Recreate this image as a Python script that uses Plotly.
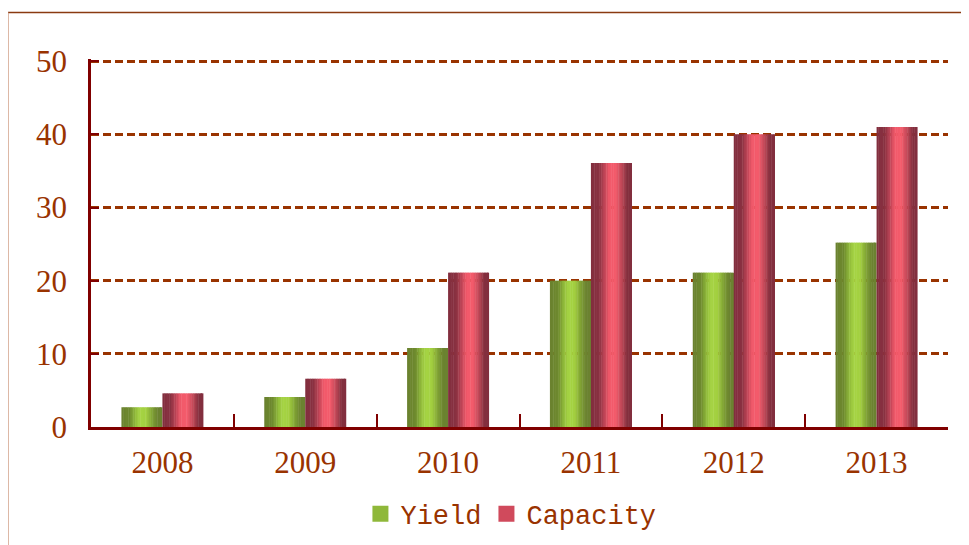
import plotly.graph_objects as go

years = ["2008", "2009", "2010", "2011", "2012", "2013"]
yield_vals = [2.7, 4.1, 10.8, 20.0, 21.1, 25.2]
capacity_vals = [4.6, 6.6, 21.1, 36.1, 40.0, 41.0]
y_ticks = [0, 10, 20, 30, 40, 50]

series = [
    ("Yield", yield_vals, [(0.0, "#6b8230"), (0.2, "#6e8a2e"), (0.35, "#94bf3c"), (0.45, "#a6d444"),
                           (0.6, "#a3d040"), (0.75, "#80a234"), (0.88, "#6b8230"), (1.0, "#6b8230")],
     "#8fb83a", -1),
    ("Capacity", capacity_vals, [(0.0, "#822e3e"), (0.2, "#8a3242"), (0.35, "#c8485a"), (0.45, "#f25a6b"),
                                 (0.6, "#f45c6c"), (0.75, "#c04858"), (0.88, "#84303f"), (1.0, "#822e3e")],
     "#d04a5c", 0),
]


def hex2rgb(h):
    h = h.lstrip("#")
    return tuple(int(h[i:i + 2], 16) for i in (0, 2, 4))


def interp(stops, t):
    for (t0, c0), (t1, c1) in zip(stops[:-1], stops[1:]):
        if t0 <= t <= t1:
            a = (t - t0) / (t1 - t0) if t1 > t0 else 0
            r0, g0, b0 = hex2rgb(c0)
            r1, g1, b1 = hex2rgb(c1)
            return "rgb(%d,%d,%d)" % (r0 + (r1 - r0) * a, g0 + (g1 - g0) * a, b0 + (b1 - b0) * a)
    return stops[-1][1]


BW = 0.287
N = 24
fig = go.Figure()
for name, vals, stops, legcolor, side in series:
    start = side * BW
    for i in range(N):
        t = (i + 0.5) / N
        fig.add_trace(go.Bar(
            x=years, y=vals, name=name,
            offset=start + i * BW / N,
            width=BW / N * (1.0 if i == N - 1 else 1.25),
            marker=dict(color=interp(stops, t), line=dict(width=0)),
            showlegend=False, hoverinfo="skip",
        ))

# legend entries
for name, vals, stops, legcolor, side in series:
    fig.add_trace(go.Scatter(
        x=[years[0]], y=[None], name=name, mode="markers",
        marker=dict(symbol="square", size=16, color=legcolor),
        showlegend=True,
    ))

axis_col = "#800000"
text_col = "#993300"
grid_col = "#993300"

fig.update_layout(
    width=969, height=545,
    margin=dict(l=83, r=29, t=51, b=126, autoexpand=False),
    paper_bgcolor="white", plot_bgcolor="white",
    barmode="overlay",
    showlegend=True,
    legend=dict(orientation="h", x=0.49, xanchor="center", y=-0.237, yanchor="middle",
                font=dict(family="Liberation Mono", size=27, color=text_col),
                itemsizing="trace", itemwidth=30),
    xaxis=dict(
        type="category", showline=True, linecolor=axis_col, linewidth=2.5,
        ticks="inside", tickson="boundaries", ticklen=13, tickwidth=2, tickcolor=axis_col,
        showgrid=False, zeroline=False, automargin=False,
        tickfont=dict(family="Liberation Serif", size=31, color=text_col),
        ticklabelstandoff=6,
    ),
    yaxis=dict(
        range=[0, 50.3], tickvals=y_ticks, showline=True, linecolor=axis_col, linewidth=2.5,
        ticks="inside", ticklen=8, tickwidth=2, tickcolor=axis_col,
        showgrid=True, gridcolor=grid_col, gridwidth=2.5, griddash="8px,4px",
        zeroline=False, automargin=False,
        tickfont=dict(family="Liberation Serif", size=31, color=text_col),
        ticklabelstandoff=15,
    ),
    shapes=[
        dict(type="line", xref="paper", yref="y", x0=0, x1=1, y0=y_ticks[-1], y1=y_ticks[-1],
             layer="below", line=dict(color=grid_col, width=2.5, dash="8px,4px")),
        dict(type="line", xref="paper", yref="paper", x0=-0.0969, x1=1.05, y0=1.1265, y1=1.1265,
             line=dict(color="#8a3a10", width=1.5)),
        dict(type="line", xref="paper", yref="paper", x0=-0.0969, x1=-0.0969, y0=1.1265, y1=-0.4,
             line=dict(color="#cf9a80", width=1.5)),
    ],
)

fig.write_html("out.html")
